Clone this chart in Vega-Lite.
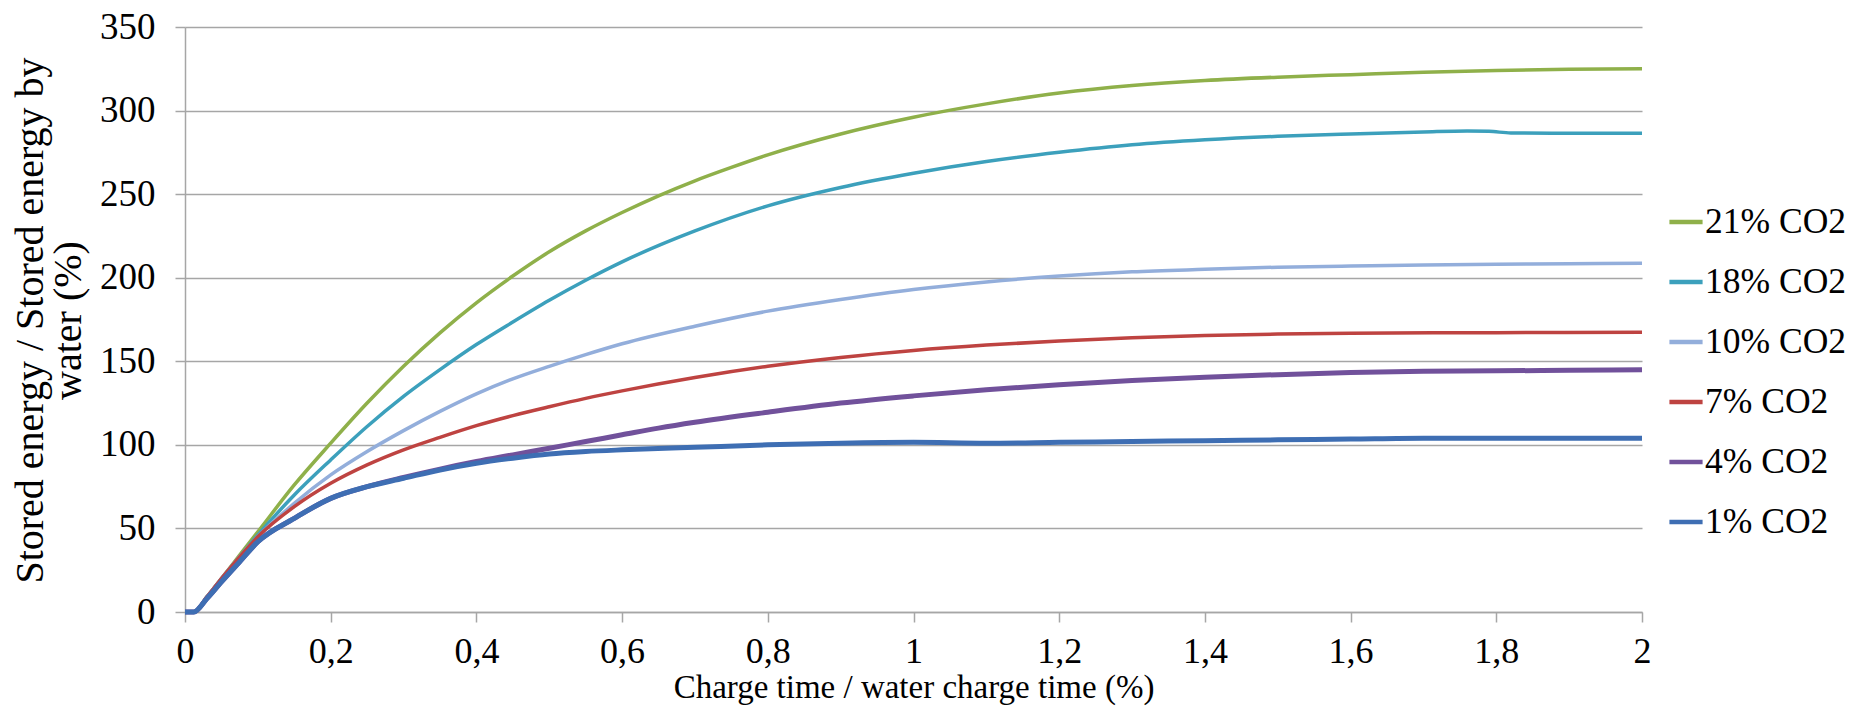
{
"$schema": "https://vega.github.io/schema/vega-lite/v6.json",
"width": 1457, "height": 585,
"autosize": {"type": "none"},
"padding": {"left": 185, "top": 27, "right": 212, "bottom": 106},
"background": "white",
"config": {"view": {"stroke": null}, "font": "Liberation Serif"},
"data": {"values": [
{"s":"21% CO2","t":0,"v":0},{"s":"21% CO2","t":0.012,"v":0},{"s":"21% CO2","t":0.03,"v":9},{"s":"21% CO2","t":0.05,"v":20},{"s":"21% CO2","t":0.075,"v":34},{"s":"21% CO2","t":0.1,"v":48},{"s":"21% CO2","t":0.15,"v":76},{"s":"21% CO2","t":0.2,"v":101},{"s":"21% CO2","t":0.25,"v":125},{"s":"21% CO2","t":0.3,"v":147},{"s":"21% CO2","t":0.35,"v":167},{"s":"21% CO2","t":0.4,"v":185},{"s":"21% CO2","t":0.45,"v":201},{"s":"21% CO2","t":0.5,"v":215.5},{"s":"21% CO2","t":0.55,"v":228},{"s":"21% CO2","t":0.6,"v":239},{"s":"21% CO2","t":0.65,"v":249},{"s":"21% CO2","t":0.7,"v":258},{"s":"21% CO2","t":0.75,"v":266},{"s":"21% CO2","t":0.8,"v":273.5},{"s":"21% CO2","t":0.9,"v":286},{"s":"21% CO2","t":1.0,"v":296},{"s":"21% CO2","t":1.1,"v":304},{"s":"21% CO2","t":1.2,"v":310.5},{"s":"21% CO2","t":1.3,"v":315},{"s":"21% CO2","t":1.4,"v":318},{"s":"21% CO2","t":1.5,"v":320},{"s":"21% CO2","t":1.6,"v":321.5},{"s":"21% CO2","t":1.7,"v":323},{"s":"21% CO2","t":1.8,"v":324},{"s":"21% CO2","t":1.9,"v":324.7},{"s":"21% CO2","t":2.0,"v":325},
{"s":"18% CO2","t":0,"v":0},{"s":"18% CO2","t":0.012,"v":0},{"s":"18% CO2","t":0.03,"v":9},{"s":"18% CO2","t":0.05,"v":20},{"s":"18% CO2","t":0.075,"v":33},{"s":"18% CO2","t":0.1,"v":46},{"s":"18% CO2","t":0.15,"v":70},{"s":"18% CO2","t":0.2,"v":91},{"s":"18% CO2","t":0.25,"v":111},{"s":"18% CO2","t":0.3,"v":129},{"s":"18% CO2","t":0.35,"v":145},{"s":"18% CO2","t":0.4,"v":160},{"s":"18% CO2","t":0.45,"v":173.5},{"s":"18% CO2","t":0.5,"v":186.5},{"s":"18% CO2","t":0.55,"v":198.5},{"s":"18% CO2","t":0.6,"v":209.5},{"s":"18% CO2","t":0.7,"v":228},{"s":"18% CO2","t":0.8,"v":243},{"s":"18% CO2","t":0.9,"v":254},{"s":"18% CO2","t":1.0,"v":262.5},{"s":"18% CO2","t":1.1,"v":269.5},{"s":"18% CO2","t":1.2,"v":275},{"s":"18% CO2","t":1.3,"v":279.5},{"s":"18% CO2","t":1.4,"v":282.5},{"s":"18% CO2","t":1.5,"v":284.6},{"s":"18% CO2","t":1.6,"v":286},{"s":"18% CO2","t":1.7,"v":287.2},{"s":"18% CO2","t":1.76,"v":287.8},{"s":"18% CO2","t":1.79,"v":287.6},{"s":"18% CO2","t":1.82,"v":286.6},{"s":"18% CO2","t":1.9,"v":286.4},{"s":"18% CO2","t":2.0,"v":286.4},
{"s":"10% CO2","t":0,"v":0},{"s":"10% CO2","t":0.012,"v":0},{"s":"10% CO2","t":0.03,"v":9},{"s":"10% CO2","t":0.05,"v":20},{"s":"10% CO2","t":0.075,"v":33},{"s":"10% CO2","t":0.1,"v":45},{"s":"10% CO2","t":0.15,"v":65},{"s":"10% CO2","t":0.2,"v":82},{"s":"10% CO2","t":0.25,"v":96},{"s":"10% CO2","t":0.3,"v":108.5},{"s":"10% CO2","t":0.35,"v":120},{"s":"10% CO2","t":0.4,"v":130.5},{"s":"10% CO2","t":0.45,"v":139.5},{"s":"10% CO2","t":0.5,"v":147},{"s":"10% CO2","t":0.55,"v":154},{"s":"10% CO2","t":0.6,"v":160.5},{"s":"10% CO2","t":0.7,"v":171},{"s":"10% CO2","t":0.8,"v":180},{"s":"10% CO2","t":0.9,"v":187},{"s":"10% CO2","t":1.0,"v":193},{"s":"10% CO2","t":1.1,"v":197.5},{"s":"10% CO2","t":1.2,"v":201},{"s":"10% CO2","t":1.3,"v":203.5},{"s":"10% CO2","t":1.4,"v":205},{"s":"10% CO2","t":1.5,"v":206.3},{"s":"10% CO2","t":1.6,"v":207},{"s":"10% CO2","t":1.7,"v":207.6},{"s":"10% CO2","t":1.8,"v":208},{"s":"10% CO2","t":1.9,"v":208.4},{"s":"10% CO2","t":2.0,"v":208.7},
{"s":"7% CO2","t":0,"v":0},{"s":"7% CO2","t":0.012,"v":0},{"s":"7% CO2","t":0.03,"v":9},{"s":"7% CO2","t":0.05,"v":20},{"s":"7% CO2","t":0.075,"v":33},{"s":"7% CO2","t":0.1,"v":45},{"s":"7% CO2","t":0.15,"v":63},{"s":"7% CO2","t":0.2,"v":77},{"s":"7% CO2","t":0.25,"v":88},{"s":"7% CO2","t":0.3,"v":97},{"s":"7% CO2","t":0.35,"v":104.5},{"s":"7% CO2","t":0.4,"v":111.5},{"s":"7% CO2","t":0.45,"v":117.5},{"s":"7% CO2","t":0.5,"v":122.8},{"s":"7% CO2","t":0.55,"v":127.8},{"s":"7% CO2","t":0.6,"v":132.3},{"s":"7% CO2","t":0.7,"v":140.3},{"s":"7% CO2","t":0.8,"v":147},{"s":"7% CO2","t":0.9,"v":152.3},{"s":"7% CO2","t":1.0,"v":156.5},{"s":"7% CO2","t":1.1,"v":159.7},{"s":"7% CO2","t":1.2,"v":162.2},{"s":"7% CO2","t":1.3,"v":164.1},{"s":"7% CO2","t":1.4,"v":165.4},{"s":"7% CO2","t":1.5,"v":166.3},{"s":"7% CO2","t":1.6,"v":166.8},{"s":"7% CO2","t":1.8,"v":167.1},{"s":"7% CO2","t":2.0,"v":167.4},
{"s":"4% CO2","t":0,"v":0},{"s":"4% CO2","t":0.012,"v":0},{"s":"4% CO2","t":0.03,"v":8},{"s":"4% CO2","t":0.05,"v":18},{"s":"4% CO2","t":0.075,"v":30},{"s":"4% CO2","t":0.1,"v":42},{"s":"4% CO2","t":0.15,"v":56},{"s":"4% CO2","t":0.2,"v":68},{"s":"4% CO2","t":0.25,"v":75},{"s":"4% CO2","t":0.3,"v":80.5},{"s":"4% CO2","t":0.35,"v":85.5},{"s":"4% CO2","t":0.4,"v":90},{"s":"4% CO2","t":0.45,"v":94},{"s":"4% CO2","t":0.5,"v":98},{"s":"4% CO2","t":0.55,"v":102},{"s":"4% CO2","t":0.6,"v":106},{"s":"4% CO2","t":0.65,"v":110},{"s":"4% CO2","t":0.7,"v":113.5},{"s":"4% CO2","t":0.8,"v":119.5},{"s":"4% CO2","t":0.9,"v":125},{"s":"4% CO2","t":1.0,"v":129.3},{"s":"4% CO2","t":1.1,"v":133},{"s":"4% CO2","t":1.2,"v":136},{"s":"4% CO2","t":1.3,"v":138.5},{"s":"4% CO2","t":1.4,"v":140.5},{"s":"4% CO2","t":1.5,"v":142},{"s":"4% CO2","t":1.6,"v":143.3},{"s":"4% CO2","t":1.7,"v":144},{"s":"4% CO2","t":1.8,"v":144.3},{"s":"4% CO2","t":1.9,"v":144.6},{"s":"4% CO2","t":2.0,"v":145},
{"s":"1% CO2","t":0,"v":0},{"s":"1% CO2","t":0.012,"v":0},{"s":"1% CO2","t":0.03,"v":8},{"s":"1% CO2","t":0.05,"v":18},{"s":"1% CO2","t":0.075,"v":30},{"s":"1% CO2","t":0.1,"v":42},{"s":"1% CO2","t":0.15,"v":56},{"s":"1% CO2","t":0.2,"v":68},{"s":"1% CO2","t":0.25,"v":75},{"s":"1% CO2","t":0.3,"v":80},{"s":"1% CO2","t":0.35,"v":85},{"s":"1% CO2","t":0.4,"v":89},{"s":"1% CO2","t":0.45,"v":92},{"s":"1% CO2","t":0.5,"v":94.5},{"s":"1% CO2","t":0.55,"v":96},{"s":"1% CO2","t":0.6,"v":97},{"s":"1% CO2","t":0.7,"v":98.5},{"s":"1% CO2","t":0.8,"v":100},{"s":"1% CO2","t":0.9,"v":101},{"s":"1% CO2","t":1.0,"v":101.5},{"s":"1% CO2","t":1.1,"v":101},{"s":"1% CO2","t":1.2,"v":101.5},{"s":"1% CO2","t":1.3,"v":102},{"s":"1% CO2","t":1.4,"v":102.5},{"s":"1% CO2","t":1.5,"v":103},{"s":"1% CO2","t":1.6,"v":103.5},{"s":"1% CO2","t":1.7,"v":104},{"s":"1% CO2","t":1.8,"v":104},{"s":"1% CO2","t":1.9,"v":104},{"s":"1% CO2","t":2.0,"v":104}
]},
"encoding": {
  "x": {"field": "t", "type": "quantitative", "scale": {"domain": [0, 2], "nice": false},
    "axis": {"values": [0,0.2,0.4,0.6,0.8,1,1.2,1.4,1.6,1.8,2], "format": ".1~f", "labelExpr": "replace(datum.label, '.', ',')",
      "grid": false, "domainColor": "#A6A6A6", "domainWidth": 1.5, "tickColor": "#A6A6A6", "tickWidth": 1.5, "tickSize": 10,
      "labelFontSize": 36, "labelColor": "#000000", "labelPadding": 12, "labelFlush": false,
      "title": "Charge time / water charge time (%)", "titleFontSize": 33, "titleFontWeight": "normal", "titleColor": "#000000",
      "titleY": 85, "titleBaseline": "alphabetic"}},
  "y": {"field": "v", "type": "quantitative", "scale": {"domain": [0, 350], "nice": false},
    "axis": {"values": [0,50,100,150,200,250,300,350],
      "grid": true, "gridColor": "#A6A6A6", "gridWidth": 1.5, "domainColor": "#A6A6A6", "domainWidth": 1.5, "tickColor": "#A6A6A6", "tickWidth": 1.5, "tickSize": 10,
      "labelFontSize": 37, "labelColor": "#000000", "labelPadding": 20,
      "title": ["Stored energy / Stored energy by", "water (%)"], "titleFontSize": 40, "titleFontWeight": "normal", "titleColor": "#000000",
      "titleLineHeight": 38, "titleX": -143, "titleY": 293, "titleBaseline": "alphabetic", "titleAlign": "center", "titleAngle": -90}},
  "color": {"field": "s", "type": "nominal",
    "scale": {"domain": ["21% CO2","18% CO2","10% CO2","7% CO2","4% CO2","1% CO2"], "range": ["#8FB04A","#3CA0BC","#93AEDB","#BE4341","#71519B","#3E6EB3"]},
    "legend": {"orient": "none", "legendX": 1482, "legendY": 176, "title": null, "labelFontSize": 35.5, "labelColor": "#000000", "labelLimit": 400,
      "symbolType": "stroke", "symbolSize": 1100, "symbolStrokeWidth": 4.5, "rowPadding": 22, "labelOffset": 0, "padding": 0}}
},
"layer": [
  {"transform": [{"filter": {"not": {"field": "s", "oneOf": ["4% CO2", "1% CO2"]}}}], "mark": {"type": "line", "strokeWidth": 3.5, "interpolate": "monotone"}},
  {"transform": [{"filter": {"field": "s", "equal": "4% CO2"}}], "mark": {"type": "line", "strokeWidth": 5, "interpolate": "monotone"}},
  {"transform": [{"filter": {"field": "s", "equal": "1% CO2"}}], "mark": {"type": "line", "strokeWidth": 5, "interpolate": "monotone"}}
]
}
